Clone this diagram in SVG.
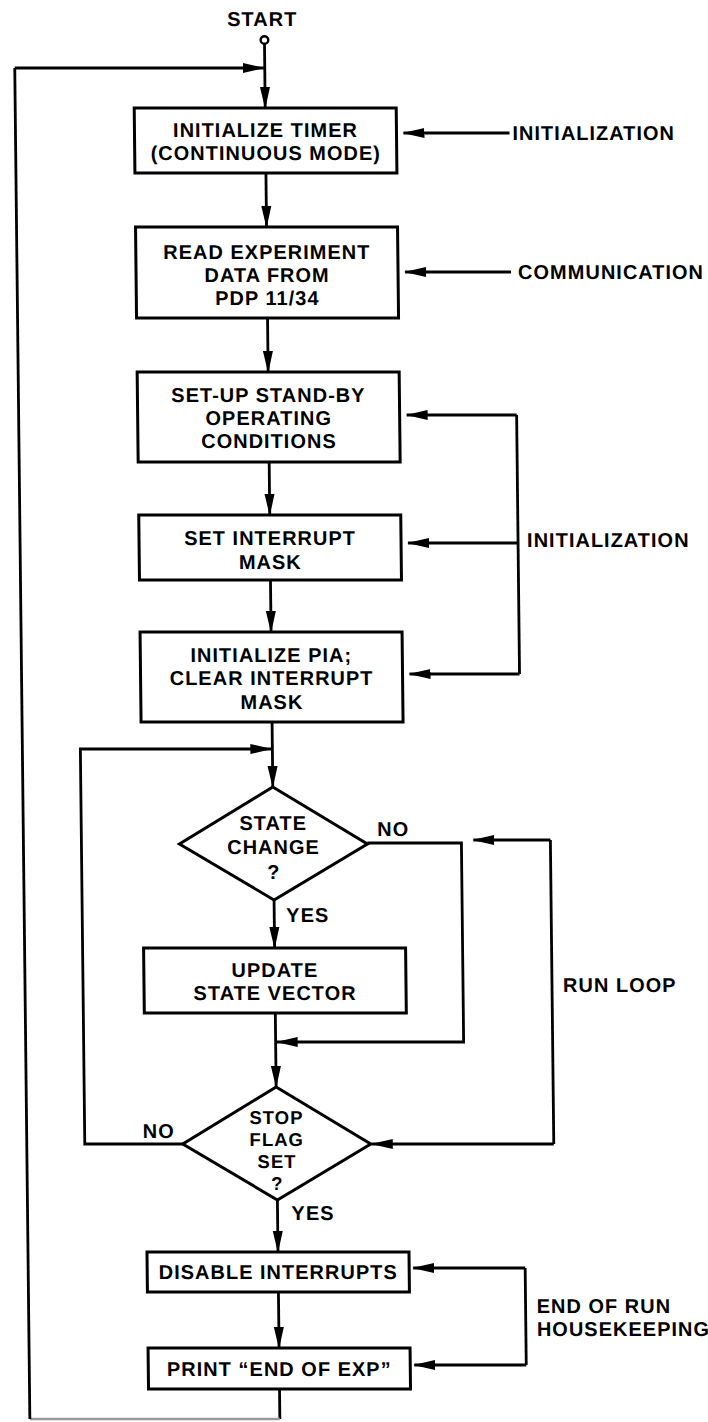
<svg xmlns="http://www.w3.org/2000/svg" width="708" height="1422" viewBox="0 0 708 1422">
<defs>
<marker id="ah" markerUnits="userSpaceOnUse" markerWidth="22" markerHeight="12" refX="21" refY="5" orient="auto" viewBox="0 0 22 10">
<path d="M0,0 L22,5 L0,10 Z" fill="#000"/>
</marker>
<style>
.bx{fill:#fff;stroke:#000;stroke-width:3}
.ln{fill:none;stroke:#000;stroke-width:2.8}
.ar{fill:none;stroke:#000;stroke-width:2.8;marker-end:url(#ah)}
.fa{fill:none;stroke:#999;stroke-width:2.4}
.t{font-family:"Liberation Sans",Arial,sans-serif;font-weight:bold;font-size:20px;letter-spacing:1px;fill:#000}
.s{font-size:18.5px}
.c{text-anchor:middle}
</style>
</defs>
<rect width="708" height="1422" fill="#fff"/>
<g transform="skewX(0.64)">
<g id="connectors">
<path class="ar" d="M264,44 V108"/>
<path class="ln" d="M264,1389 V1419"/>
<path class="fa" d="M264,1419 H14"/>
<path class="ln" d="M14,1419 V68"/>
<path class="ar" d="M14,68 H263"/>
<path class="ar" d="M264,173 V227"/>
<path class="ar" d="M264,318 V372"/>
<path class="ar" d="M264,462 V515"/>
<path class="ar" d="M264,580 V632"/>
<path class="ar" d="M264,722 V787"/>
<path class="ar" d="M508,133 H402"/>
<path class="ar" d="M508,272 H402"/>
<path class="ln" d="M512,415 V674"/>
<path class="ar" d="M512,415 H402"/>
<path class="ar" d="M512,543 H402"/>
<path class="ar" d="M512,674 H402"/>
<path class="ar" d="M358,843 H452 V1042 H265"/>
<path class="ar" d="M264,900 V948"/>
<path class="ar" d="M264,1013 V1087"/>
<path class="ln" d="M541,840 V1144"/>
<path class="ar" d="M541,840 H464"/>
<path class="ar" d="M541,1144 H359"/>
<path class="ar" d="M170,1144 H72 V749 H263"/>
<path class="ar" d="M264,1200 V1252"/>
<path class="ar" d="M264,1292 V1348"/>
<path class="ln" d="M511,1268 V1365"/>
<path class="ar" d="M511,1268 H399"/>
<path class="ar" d="M511,1365 H399"/>
</g>
<g id="start">
<text class="t c" x="262" y="26">START</text>
<circle cx="264" cy="40" r="3.8" fill="#fff" stroke="#000" stroke-width="2.4"/>
</g>
<g id="n1">
<rect class="bx" x="133" y="108" width="262" height="65"/>
<text class="t c" x="264" y="137">INITIALIZE TIMER</text>
<text class="t c" x="264" y="160">(CONTINUOUS MODE)</text>
</g>
<g id="n2">
<rect class="bx" x="133" y="227" width="262" height="91"/>
<text class="t c" x="264" y="259">READ EXPERIMENT</text>
<text class="t c" x="264" y="282">DATA FROM</text>
<text class="t c" x="264" y="305">PDP 11/34</text>
</g>
<g id="n3">
<rect class="bx" x="133" y="372" width="262" height="90"/>
<text class="t c" x="264" y="402">SET-UP STAND-BY</text>
<text class="t c" x="264" y="425">OPERATING</text>
<text class="t c" x="264" y="448">CONDITIONS</text>
</g>
<g id="n4">
<rect class="bx" x="133" y="515" width="262" height="65"/>
<text class="t c" x="264" y="545">SET INTERRUPT</text>
<text class="t c" x="264" y="569">MASK</text>
</g>
<g id="n5">
<rect class="bx" x="133" y="632" width="262" height="90"/>
<text class="t c" x="264" y="662">INITIALIZE PIA;</text>
<text class="t c" x="264" y="685">CLEAR INTERRUPT</text>
<text class="t c" x="264" y="709">MASK</text>
</g>
<g id="d1">
<polygon class="bx" points="264,787 358,844 264,900 170,844"/>
<text class="t c" x="264" y="830">STATE</text>
<text class="t c" x="264" y="854">CHANGE</text>
<text class="t c" x="264" y="879">?</text>
<text class="t" x="368" y="836">NO</text>
<text class="t" x="276" y="922">YES</text>
</g>
<g id="n6">
<rect class="bx" x="133" y="948" width="262" height="65"/>
<text class="t c" x="264" y="977">UPDATE</text>
<text class="t c" x="264" y="1000">STATE VECTOR</text>
</g>
<g id="d2">
<polygon class="bx" points="264,1087 358,1144 264,1200 170,1144"/>
<text class="t s c" x="264" y="1124">STOP</text>
<text class="t s c" x="264" y="1146">FLAG</text>
<text class="t s c" x="264" y="1168">SET</text>
<text class="t s c" x="264" y="1190">?</text>
<text class="t" x="130" y="1138">NO</text>
<text class="t" x="278" y="1220">YES</text>
</g>
<g id="n7">
<rect class="bx" x="133" y="1252" width="262" height="40"/>
<text class="t c" x="264" y="1279">DISABLE INTERRUPTS</text>
</g>
<g id="n8">
<rect class="bx" x="133" y="1348" width="262" height="41"/>
<text class="t c" x="264" y="1376">PRINT “END OF EXP”</text>
</g>
<g id="labels">
<text class="t" x="511" y="140">INITIALIZATION</text>
<text class="t" x="515" y="279">COMMUNICATION</text>
<text class="t" x="521" y="547">INITIALIZATION</text>
<text class="t" x="552" y="992">RUN LOOP</text>
<text class="t" x="522" y="1313">END OF RUN</text>
<text class="t" x="522" y="1336">HOUSEKEEPING</text>
</g>
</g>
</svg>
